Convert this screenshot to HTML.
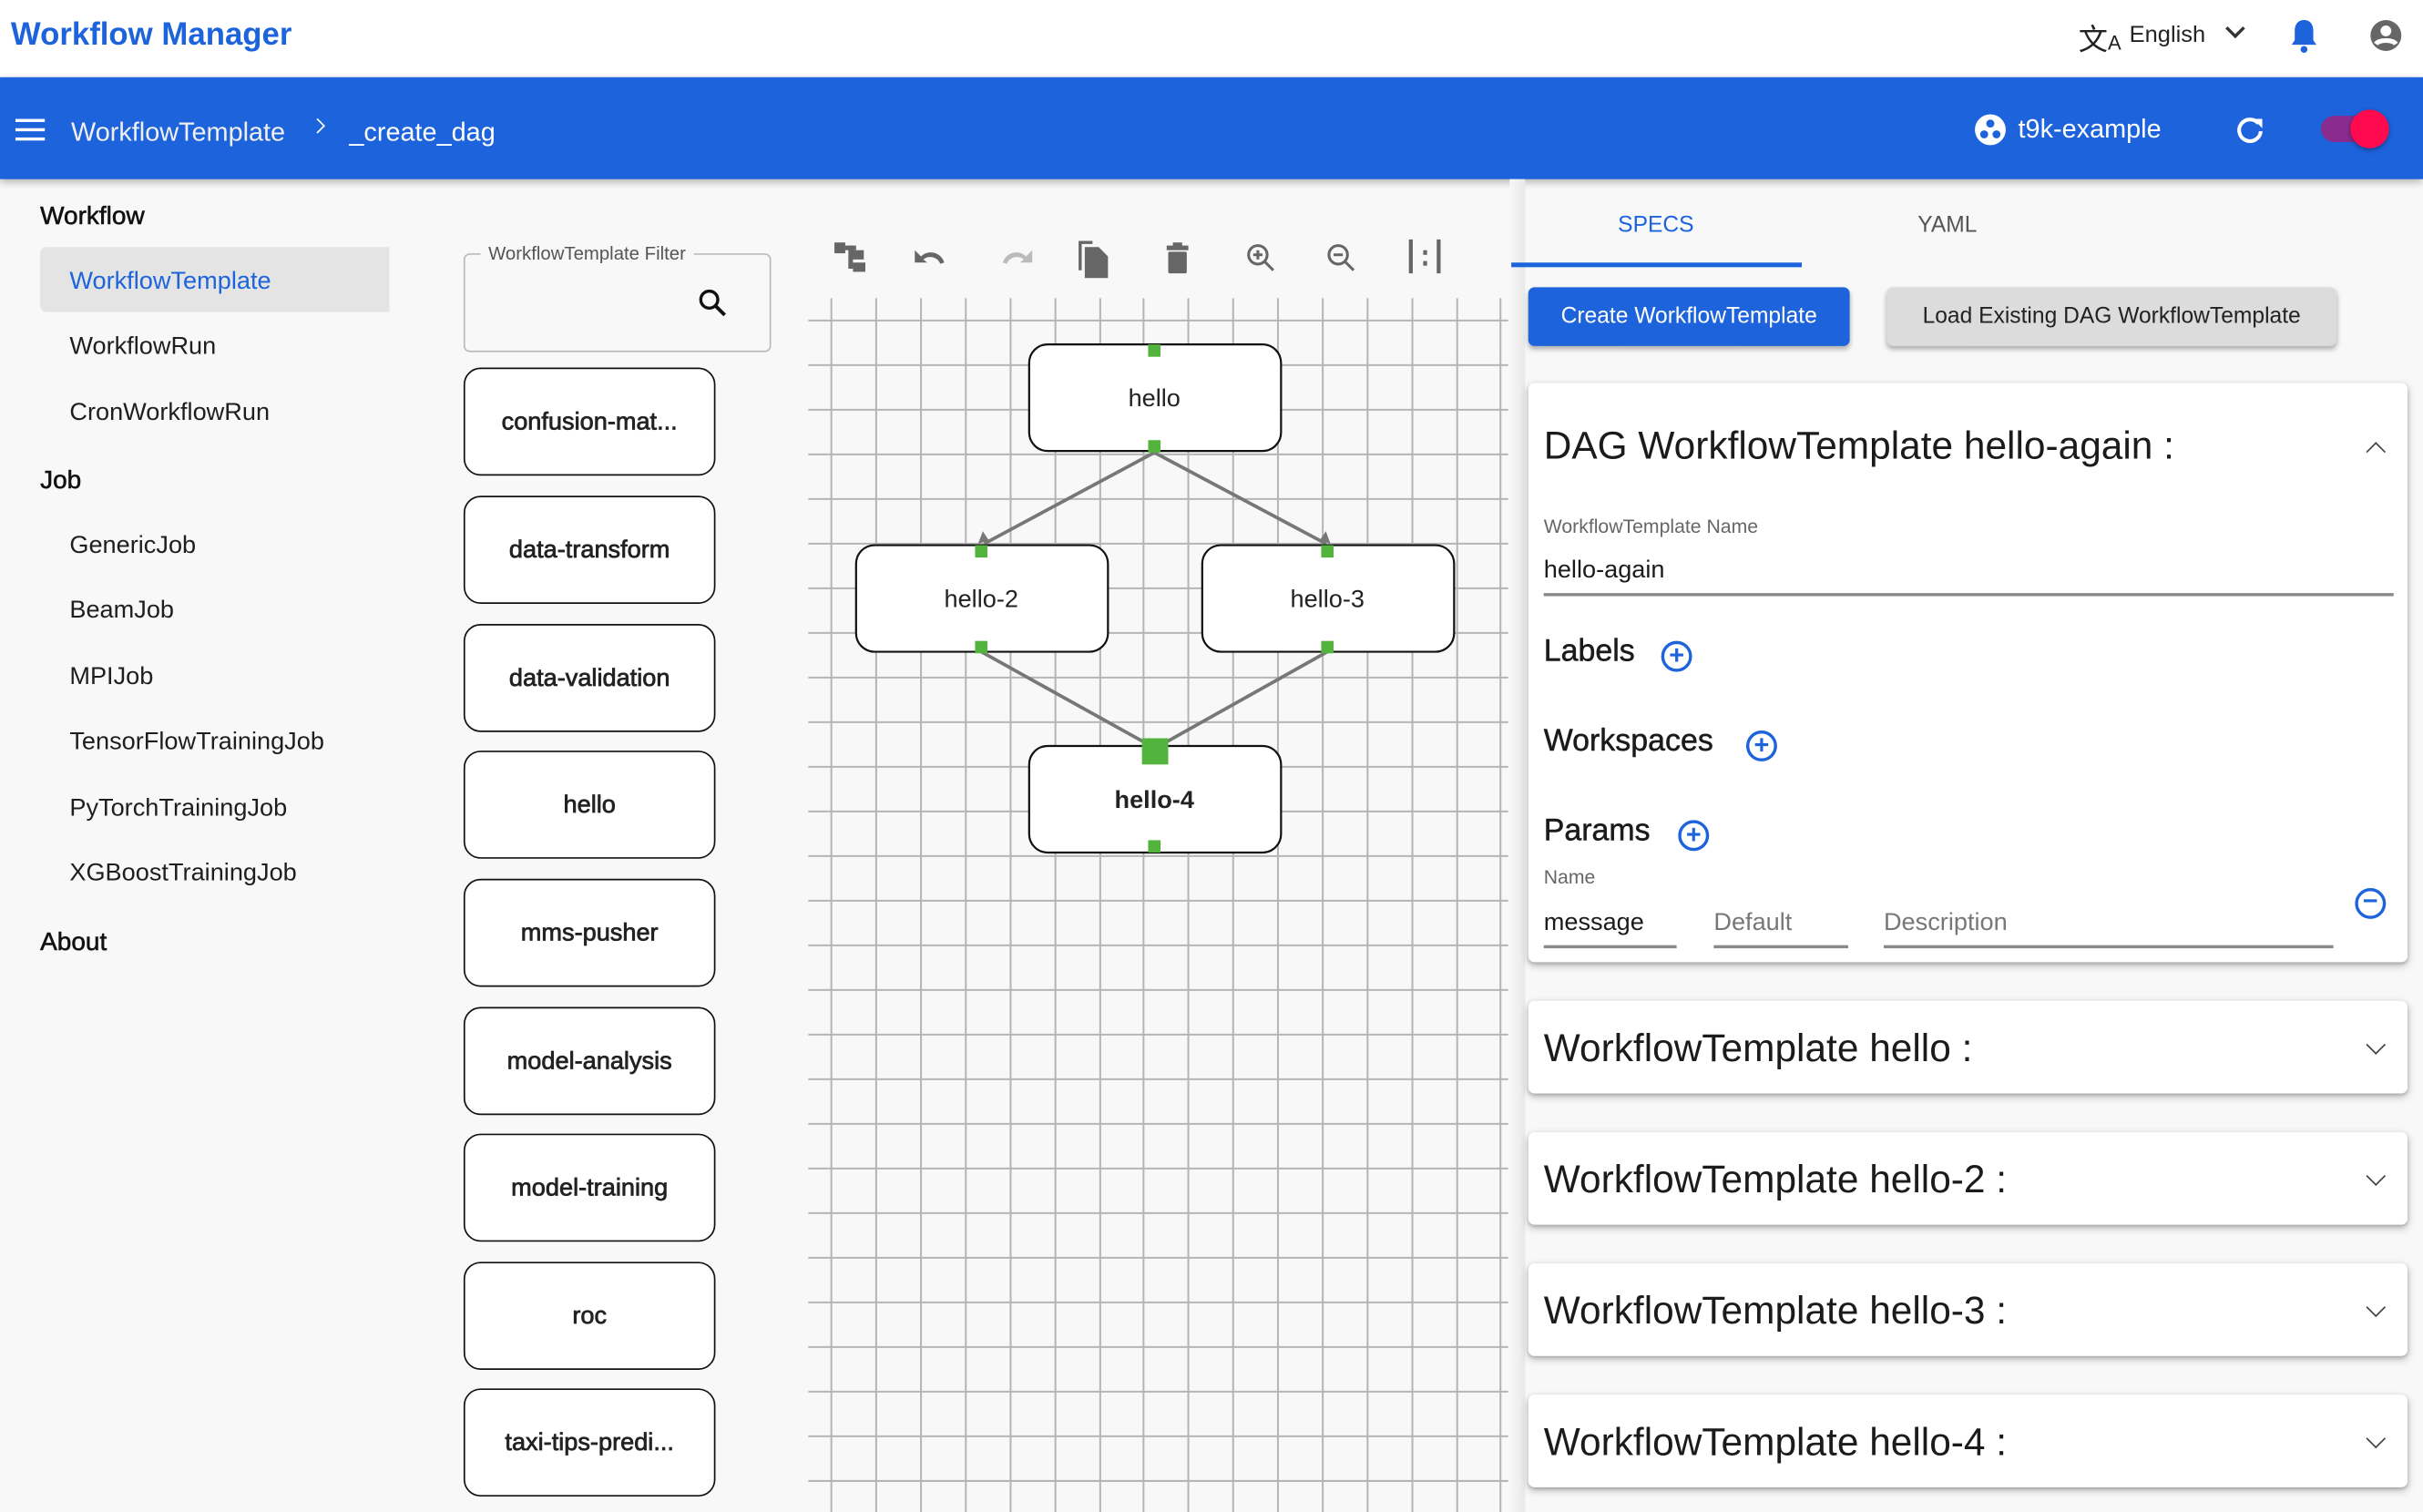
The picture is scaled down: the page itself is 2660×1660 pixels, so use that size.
<!DOCTYPE html>
<html><head><meta charset="utf-8"><style>
html,body{margin:0;padding:0;width:2660px;height:1660px;overflow:hidden;background:#f8f8f8}
#w{position:absolute;left:0;top:0;width:1568px;height:979px;transform:scale(1.69643,1.69561);transform-origin:0 0;font-family:"Liberation Sans",sans-serif;color:#202020;background:#f8f8f8}
.a{position:absolute;white-space:nowrap}
.side{font-size:16px;color:#1e1e1e}
.hd{font-size:16.5px;color:#111;-webkit-text-stroke:0.35px #111}
.card{position:absolute;left:300px;width:161px;height:67px;border:1.6px solid #111;border-radius:11px;background:#fff;font-size:16px;color:#222;-webkit-text-stroke:0.45px #222;display:flex;align-items:center;justify-content:center;padding-top:1px;box-sizing:content-box}
.pc{position:absolute;left:989px;width:569px;background:#fff;border-radius:4px;box-shadow:0 2px 5px rgba(0,0,0,.25),0 1px 2px rgba(0,0,0,.15)}
.pc .t{position:absolute;left:10px;font-size:25px;color:#1b1b1b}
.chev{position:absolute;right:16px;width:8px;height:8px;border-right:1.8px solid #444;border-bottom:1.8px solid #444}
.plus{position:absolute;width:16px;height:16px;border:2px solid #1d63dc;border-radius:50%;color:#1d63dc;font-size:17px;line-height:15px;text-align:center;font-weight:bold}
.sec{font-size:20px;color:#1b1b1b;-webkit-text-stroke:0.3px #1b1b1b}
</style></head><body><div id="w">
<div class="a" style="left:0;top:0;width:1568px;height:50px;background:#fff"></div>
<div class="a" style="left:7px;top:11px;font-size:20.5px;font-weight:bold;color:#1d63dc">Workflow Manager</div>
<div class="a" style="left:1345px;top:11px;font-size:19px;color:#222">文<span style="font-size:13px">A</span></div>
<div class="a" style="left:1378px;top:14px;font-size:15px;color:#222">English</div>
<div class="a" style="left:1442px;top:14px;width:7px;height:7px;border-right:2px solid #333;border-bottom:2px solid #333;transform:rotate(45deg)"></div>
<svg class="a" style="left:1480px;top:11px" width="22" height="24" viewBox="0 0 22 24"><path d="M11 2c-4 0-6 3-6 7v6l-2 3h16l-2-3V9c0-4-2-7-6-7z" fill="#1d63dc"/><circle cx="11" cy="21" r="2.2" fill="#1d63dc"/></svg>
<svg class="a" style="left:1532px;top:11px" width="24" height="24" viewBox="0 0 24 24"><circle cx="12" cy="12" r="10" fill="#666"/><circle cx="12" cy="9" r="3.5" fill="#fff"/><path d="M5.5 17.5c2-3 11-3 13 0" stroke="#fff" stroke-width="3" fill="none"/></svg>
<div class="a" style="left:0;top:50px;width:1568px;height:66px;background:#1d63dc;box-shadow:0 2px 5px rgba(0,0,0,.3)"></div>
<div class="a" style="left:10px;top:77px;width:19px;height:2px;background:#fff;box-shadow:0 6px 0 #fff,0 12px 0 #fff"></div>
<div class="a" style="left:46px;top:76px;font-size:17px;color:#f0f0f0">WorkflowTemplate</div>
<div class="a" style="left:202px;top:78px;width:6px;height:6px;border-right:1.5px solid #fff;border-top:1.5px solid #fff;transform:rotate(45deg)"></div>
<div class="a" style="left:226px;top:76px;font-size:17px;color:#fff">_create_dag</div>
<svg class="a" style="left:1277px;top:73px" width="22" height="22" viewBox="0 0 22 22"><circle cx="11" cy="11" r="10" fill="#fff"/><circle cx="11" cy="7" r="2.6" fill="#1d63dc"/><circle cx="7" cy="14" r="2.6" fill="#1d63dc"/><circle cx="15" cy="14" r="2.6" fill="#1d63dc"/></svg>
<div class="a" style="left:1306px;top:74px;font-size:17px;color:#fff">t9k-example</div>
<svg class="a" style="left:1445px;top:73px" width="22" height="22" viewBox="0 0 22 22"><path d="M16.5 7A7 7 0 1 0 18 12" stroke="#fff" stroke-width="2.4" fill="none"/><path d="M13 4h6v6z" fill="#fff"/></svg>
<div class="a" style="left:1502px;top:75px;width:34px;height:17px;border-radius:9px;background:#8a2b8f"></div>
<div class="a" style="left:1521px;top:71px;width:25px;height:25px;border-radius:50%;background:#ff0a4f;box-shadow:0 1px 3px rgba(0,0,0,.4)"></div>
<div class="a hd" style="left:26px;top:131px">Workflow</div>
<div class="a" style="left:26px;top:160px;width:226px;height:42px;background:#e4e4e4;border-radius:4px 0 0 4px"></div>
<div class="a side" style="left:45px;top:174px;color:#1d63dc">WorkflowTemplate</div>
<div class="a side" style="left:45px;top:216px">WorkflowRun</div>
<div class="a side" style="left:45px;top:259px">CronWorkflowRun</div>
<div class="a hd" style="left:26px;top:302px">Job</div>
<div class="a side" style="left:45px;top:345px">GenericJob</div>
<div class="a side" style="left:45px;top:387px">BeamJob</div>
<div class="a side" style="left:45px;top:430px">MPIJob</div>
<div class="a side" style="left:45px;top:472px">TensorFlowTrainingJob</div>
<div class="a side" style="left:45px;top:515px">PyTorchTrainingJob</div>
<div class="a side" style="left:45px;top:557px">XGBoostTrainingJob</div>
<div class="a hd" style="left:26px;top:601px">About</div>
<div class="a" style="left:300px;top:164px;width:197px;height:62px;border:1.3px solid #bbb;border-radius:4px"></div>
<div class="a" style="left:311px;top:157px;padding:0 5px;background:#f8f8f8;font-size:12px;color:#555">WorkflowTemplate Filter</div>
<svg class="a" style="left:451px;top:186px" width="20" height="20" viewBox="0 0 20 20"><circle cx="8" cy="8" r="5.5" stroke="#111" stroke-width="2" fill="none"/><path d="M12 12l6 6" stroke="#111" stroke-width="2.3"/></svg>
<div class="card" style="top:238px">confusion-mat...</div>
<div class="card" style="top:321px">data-transform</div>
<div class="card" style="top:404px">data-validation</div>
<div class="card" style="top:486px">hello</div>
<div class="card" style="top:569px">mms-pusher</div>
<div class="card" style="top:652px">model-analysis</div>
<div class="card" style="top:734px">model-training</div>
<div class="card" style="top:817px">roc</div>
<div class="card" style="top:899px">taxi-tips-predi...</div>
<svg class="a" style="left:538px;top:153px" width="410" height="30" viewBox="0 0 410 30">
<g fill="#666">
<rect x="2" y="4" width="7" height="7"/><rect x="9" y="6" width="7" height="3"/><rect x="11" y="6" width="3" height="15"/><rect x="13" y="9" width="8" height="6"/><rect x="14" y="17" width="8" height="6"/>
<path d="M58 13a9 9 0 0 1 15 4l-2.5 .8a7 7 0 0 0-11-2.8L62 17h-8v-8z"/>
<path d="M126 13a9 9 0 0 0-15 4l2.5 .8a7 7 0 0 1 11-2.8L122 17h8v-8z" fill="#bbb"/>
<path d="M160 3h9v2h-7v17h-2z"/><path d="M164 7h9l6 6v14h-15z"/>
<rect x="217" y="6" width="14" height="3"/><rect x="221" y="4" width="6" height="3"/><rect x="218" y="10" width="12" height="14" rx="1"/>
</g>
<g stroke="#666" fill="none" stroke-width="1.8"><circle cx="276" cy="12" r="6"/><path d="M280 16l6 6M273 12h6M276 9v6"/>
<circle cx="328" cy="12" r="6"/><path d="M332 16l6 6M325 12h6"/>
<path d="M375 2v22M393 2v22" stroke-width="2.5"/></g>
<rect x="383" y="9" width="2.5" height="3" fill="#666"/><rect x="383" y="16" width="2.5" height="3" fill="#666"/>
</svg>
<svg class="a" style="left:523px;top:193px" width="456" height="786" viewBox="523 193 456 786">
<g stroke="#b5b5b5" stroke-width="1.2">
<path d="M538 193V979M567 193V979M596 193V979M625 193V979M654 193V979M683 193V979M712 193V979M740 193V979M769 193V979M798 193V979M827 193V979M856 193V979M885 193V979M914 193V979M943 193V979M971 193V979"/>
<path d="M523 207.5H976M523 236.4H976M523 265.3H976M523 294.2H976M523 323.1H976M523 352H976M523 380.9H976M523 409.8H976M523 438.7H976M523 467.6H976M523 496.5H976M523 525.4H976M523 554.3H976M523 583.2H976M523 612.1H976M523 641H976M523 669.9H976M523 698.8H976M523 727.7H976M523 756.6H976M523 785.5H976M523 814.4H976M523 843.3H976M523 872.2H976M523 901.1H976M523 930H976M523 958.9H976"/>
</g>
<g stroke="#777" stroke-width="2.2" fill="none">
<path d="M747 293L637 352M747 293L858 352M635 422L743 482M859 422L752 482"/>
</g>
<g fill="#777"><path d="M633 352l3-8 4 6z"/><path d="M861 352l-3-8-4 6z"/><path d="M742 484l2-6 3 6z"/><path d="M750 484l2-6 3 6z"/></g>
<g fill="#fff" stroke="#111" stroke-width="1.3">
<rect x="666" y="223" width="163" height="69" rx="12"/>
<rect x="554" y="353" width="163" height="69" rx="12"/>
<rect x="778" y="353" width="163" height="69" rx="12"/>
<rect x="666" y="483" width="163" height="69" rx="12"/>
</g>
<g fill="#52b43c">
<rect x="743" y="223" width="8" height="8"/><rect x="743" y="285" width="8" height="8"/>
<rect x="631" y="353" width="8" height="8"/><rect x="631" y="415" width="8" height="8"/>
<rect x="855" y="353" width="8" height="8"/><rect x="855" y="415" width="8" height="8"/>
<rect x="739" y="478" width="17" height="17"/><rect x="743" y="544" width="8" height="8"/>
</g>
<g font-family="Liberation Sans, sans-serif" font-size="16" fill="#222" text-anchor="middle">
<text x="747" y="263">hello</text><text x="635" y="393">hello-2</text><text x="859" y="393">hello-3</text><text x="747" y="523" font-weight="bold">hello-4</text>
</g>
</svg>
<div class="a" style="left:977px;top:116px;width:10px;height:863px;background:linear-gradient(90deg,#f8f8f8,#e8e8e8)"></div>
<div class="a" style="left:1047px;top:138px;font-size:14.5px;color:#1d63dc">SPECS</div>
<div class="a" style="left:1241px;top:138px;font-size:14.5px;color:#555">YAML</div>
<div class="a" style="left:978px;top:170px;width:188px;height:3px;background:#1d63dc"></div>
<div class="a" style="left:989px;top:186px;width:208px;height:38px;background:#1d63dc;border-radius:4px;box-shadow:0 2px 3px rgba(0,0,0,.3);color:#fff;font-size:14.5px;line-height:39px;text-align:center">Create WorkflowTemplate</div>
<div class="a" style="left:1221px;top:186px;width:291px;height:38px;background:#dcdcdc;border-radius:4px;box-shadow:0 2px 3px rgba(0,0,0,.3);color:#222;font-size:14.5px;line-height:39px;text-align:center">Load Existing DAG WorkflowTemplate</div>
<div class="pc" style="top:248px;height:375px">
<div class="t" style="top:27px">DAG WorkflowTemplate hello-again :</div>
<div class="chev" style="top:40px;transform:rotate(-135deg)"></div>
<div class="a" style="left:10px;top:86px;font-size:12.5px;color:#666">WorkflowTemplate Name</div>
<div class="a" style="left:10px;top:113px;font-size:16px;color:#1b1b1b">hello-again</div>
<div class="a" style="left:10px;top:136px;width:550px;height:1.5px;background:#888"></div>
<div class="a sec" style="left:10px;top:163px">Labels</div>
<div class="plus" style="left:86px;top:167px">+</div>
<div class="a sec" style="left:10px;top:221px">Workspaces</div>
<div class="plus" style="left:141px;top:225px">+</div>
<div class="a sec" style="left:10px;top:279px">Params</div>
<div class="plus" style="left:97px;top:283px">+</div>
<div class="a" style="left:10px;top:313px;font-size:12.5px;color:#666">Name</div>
<div class="a" style="left:10px;top:341px;font-size:16px;color:#1b1b1b">message</div>
<div class="a" style="left:120px;top:341px;font-size:16px;color:#777">Default</div>
<div class="a" style="left:230px;top:341px;font-size:16px;color:#777">Description</div>
<div class="a" style="left:10px;top:364px;width:86px;height:1.5px;background:#888"></div>
<div class="a" style="left:120px;top:364px;width:87px;height:1.5px;background:#888"></div>
<div class="a" style="left:230px;top:364px;width:291px;height:1.5px;background:#888"></div>
<div class="plus" style="left:535px;top:327px;line-height:14px">−</div>
</div>
<div class="pc" style="top:648px;height:60px"><div class="t" style="top:17px">WorkflowTemplate hello :</div><div class="chev" style="top:24px;transform:rotate(45deg)"></div></div>
<div class="pc" style="top:733px;height:60px"><div class="t" style="top:17px">WorkflowTemplate hello-2 :</div><div class="chev" style="top:24px;transform:rotate(45deg)"></div></div>
<div class="pc" style="top:818px;height:60px"><div class="t" style="top:17px">WorkflowTemplate hello-3 :</div><div class="chev" style="top:24px;transform:rotate(45deg)"></div></div>
<div class="pc" style="top:903px;height:60px"><div class="t" style="top:17px">WorkflowTemplate hello-4 :</div><div class="chev" style="top:24px;transform:rotate(45deg)"></div></div>
</div></body></html>
